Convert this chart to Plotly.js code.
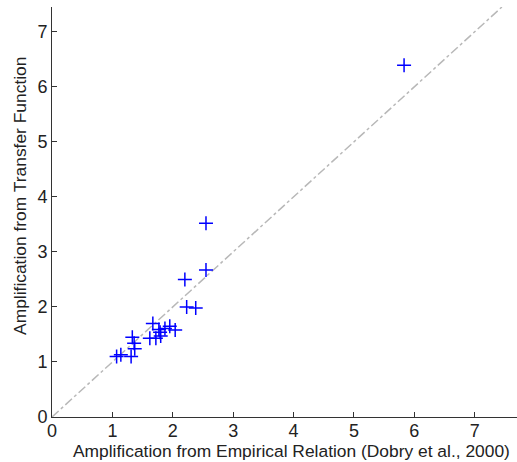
<!DOCTYPE html>
<html>
<head>
<meta charset="utf-8">
<script src="https://cdn.plot.ly/plotly-3.0.1.min.js"></script>
<style>html,body{margin:0;padding:0;background:#fff;}#chart{width:517px;height:462px;}</style>
</head>
<body>
<div id="chart"></div>
<script>
// Empirical amplification (Dobry et al., 2000)
var empirical = [5.83, 2.55, 2.55, 2.20, 2.23, 2.38, 1.67, 1.77, 1.79, 1.87, 1.95, 2.04, 1.62, 1.72, 1.80, 1.33, 1.36, 1.37, 1.07, 1.14, 1.31];
// Amplification from transfer function
var transfer = [6.39, 3.52, 2.67, 2.50, 2.00, 1.98, 1.70, 1.59, 1.54, 1.61, 1.65, 1.58, 1.43, 1.43, 1.47, 1.45, 1.34, 1.24, 1.10, 1.13, 1.10];
// 1:1 reference line
var lineX = [0, 7.45];
var lineY = [0, 7.45];
var tickVals = [0, 1, 2, 3, 4, 5, 6, 7];
var tickText = ['0', '1', '2', '3', '4', '5', '6', '7'];

var font = 'Liberation Sans, Arial, sans-serif';
var traces = [
  {x: lineX, y: lineY, mode: 'lines', type: 'scatter',
   line: {color: '#b8b8b8', width: 1.5, dash: 'dashdot'}, hoverinfo: 'skip'},
  {x: empirical, y: transfer, mode: 'markers', type: 'scatter',
   marker: {symbol: 'cross-thin-open', size: 10, color: '#0000ff', line: {color: '#0000ff', width: 1.5}}}
];
var layout = {
  width: 517, height: 462,
  margin: {l: 52, r: 0, t: 7, b: 45},
  showlegend: false,
  paper_bgcolor: '#fff', plot_bgcolor: '#fff',
  font: {family: font, size: 18, color: '#222'},
  xaxis: {range: [0, 7.7], tickvals: tickVals, ticktext: tickText,
    showgrid: false, zeroline: false, showline: true, linecolor: '#333', linewidth: 1,
    ticks: 'inside', ticklen: 5, tickcolor: '#333', ticklabelstandoff: -3, tickfont: {size: 18, color: '#222'}},
  yaxis: {range: [0, 7.45], tickvals: tickVals, ticktext: tickText,
    showgrid: false, zeroline: false, showline: true, linecolor: '#333', linewidth: 1,
    ticks: 'inside', ticklen: 5, tickcolor: '#333', tickfont: {size: 18, color: '#222'}},
  annotations: [
    {text: 'Amplification from Empirical Relation (Dobry et al., 2000)', xref: 'paper', yref: 'paper',
     x: 0.516, y: -0.084, xanchor: 'center', yanchor: 'middle', showarrow: false,
     font: {size: 17.4, color: '#222', family: font}},
    {text: 'Amplification from Transfer Function', xref: 'paper', yref: 'paper',
     x: -0.069, y: 0.539, xanchor: 'center', yanchor: 'middle', textangle: -90, showarrow: false,
     font: {size: 17.4, color: '#222', family: font}}
  ]
};
Plotly.newPlot('chart', traces, layout, {displayModeBar: false, staticPlot: true});
</script>
</body>
</html>
